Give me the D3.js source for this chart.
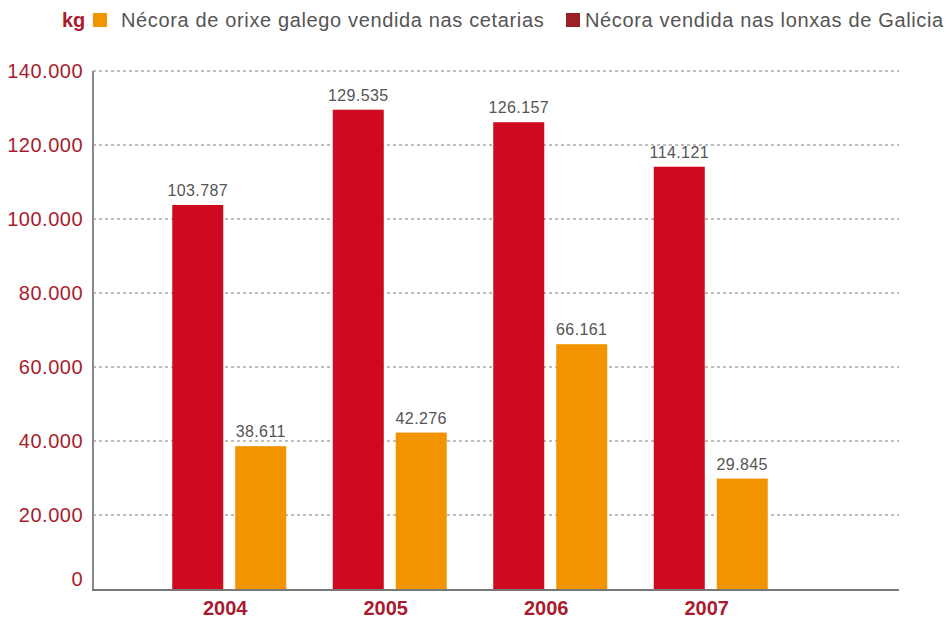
<!DOCTYPE html>
<html>
<head>
<meta charset="utf-8">
<script src="https://cdn.jsdelivr.net/npm/d3@7"></script>
<style>
  body { margin: 0; background: #fff; }
  text { font-family: "Liberation Sans", Arial, sans-serif; }
</style>
</head>
<body>
<div id="chart"></div>
<script>
// data
var years = ["2004", "2005", "2006", "2007"];
var lonxas = [103787, 129535, 126157, 114121];   // Nécora vendida nas lonxas de Galicia
var cetarias = [38611, 42276, 66161, 29845];     // Nécora de orixe galego vendida nas cetarias
var yTicks = [0, 20000, 40000, 60000, 80000, 100000, 120000, 140000];
var seriesNames = ["Nécora de orixe galego vendida nas cetarias", "Nécora vendida nas lonxas de Galicia"];

function draw_chart(){

  var width = 946, height = 620;
  var pLeft = 93, pRight = 899, pTop = 71, pBottom = 589;   // plot area

  var fmt = function(v){
    // thousands separator "."
    return d3.format(",")(v).replace(/,/g, ".");
  };

  var svg = d3.select("#chart").append("svg")
              .attr("width", width)
              .attr("height", height);

  var y = d3.scaleLinear().domain([0, 140000]).range([pBottom, pTop]);

  var x0 = d3.scaleBand().domain(years).range([149, 791]);
  var x1 = d3.scaleBand().domain(["lonxas", "cetarias"])
             .range([-57, 57])
             .paddingInner(0.19);

  var colors = { lonxas: "#cf0a20", cetarias: "#f29400" };

  // gridlines
  svg.append("g").selectAll("line")
     .data(yTicks.filter(function(d){ return d > 0; }))
     .enter().append("line")
     .attr("x1", pLeft).attr("x2", pRight)
     .attr("y1", function(d){ return y(d); })
     .attr("y2", function(d){ return y(d); })
     .attr("stroke", "#7a7a7a")
     .attr("stroke-width", 1)
     .attr("stroke-dasharray", "3,3");

  // y tick labels
  svg.append("g").selectAll("text")
     .data(yTicks)
     .enter().append("text")
     .attr("x", 83)
     .attr("y", function(d){ return y(d) + (d === 0 ? -10 : 0); })
     .attr("dy", "0.36em")
     .attr("text-anchor", "end")
     .attr("fill", "#a81c2f")
     .attr("font-size", 20)
     .attr("letter-spacing", 0.5)
     .text(function(d){ return fmt(d); });

  // bars
  var rows = years.map(function(yr, i){
    return { year: yr, vals: [ {key: "lonxas", v: lonxas[i]}, {key: "cetarias", v: cetarias[i]} ] };
  });

  var group = svg.append("g").selectAll("g")
     .data(rows)
     .enter().append("g")
     .attr("transform", function(d){ return "translate(" + (x0(d.year) + x0.bandwidth() / 2) + ",0)"; });

  group.selectAll("rect")
     .data(function(d){ return d.vals; })
     .enter().append("rect")
     .attr("x", function(d){ return x1(d.key); })
     .attr("width", x1.bandwidth())
     .attr("y", function(d){ return y(d.v); })
     .attr("height", function(d){ return y(0) - y(d.v); })
     .attr("fill", function(d){ return colors[d.key]; });

  group.selectAll("text.val")
     .data(function(d){ return d.vals; })
     .enter().append("text")
     .attr("class", "val")
     .attr("x", function(d){ return x1(d.key) + x1.bandwidth() / 2; })
     .attr("y", function(d){ return y(d.v) - 9; })
     .attr("text-anchor", "middle")
     .attr("fill", "#555")
     .attr("font-size", 16)
     .attr("letter-spacing", 0.4)
     .text(function(d){ return fmt(d.v); });

  // axis lines
  svg.append("line")
     .attr("x1", pLeft).attr("x2", pLeft)
     .attr("y1", pTop).attr("y2", 590)
     .attr("stroke", "#8a8a8a").attr("stroke-width", 2);
  svg.append("line")
     .attr("x1", pLeft - 1).attr("x2", pRight)
     .attr("y1", 590).attr("y2", 590)
     .attr("stroke", "#777").attr("stroke-width", 2);

  // x labels
  svg.append("g").selectAll("text")
     .data(years)
     .enter().append("text")
     .attr("x", function(d){ return x0(d) + x0.bandwidth() / 2 - 4; })
     .attr("y", 615)
     .attr("text-anchor", "middle")
     .attr("fill", "#a81c2f")
     .attr("font-size", 20)
     .attr("font-weight", "bold")
     .text(function(d){ return d; });

  // legend
  var legend = svg.append("g");
  legend.append("text")
        .attr("x", 62).attr("y", 27)
        .attr("fill", "#a81c2f")
        .attr("font-size", 20)
        .attr("font-weight", "bold")
        .text("kg");
  legend.append("rect").attr("x", 93).attr("y", 13).attr("width", 14).attr("height", 14).attr("fill", "#f29400");
  legend.append("text")
        .attr("x", 121).attr("y", 27)
        .attr("fill", "#555").attr("font-size", 20)
        .attr("letter-spacing", 0.64)
        .text(seriesNames[0]);
  legend.append("rect").attr("x", 566).attr("y", 13).attr("width", 14).attr("height", 14).attr("fill", "#9b2224");
  legend.append("text")
        .attr("x", 585).attr("y", 27)
        .attr("fill", "#555").attr("font-size", 20)
        .attr("letter-spacing", 0.64)
        .text(seriesNames[1]);
}

draw_chart();
</script>
</body>
</html>
